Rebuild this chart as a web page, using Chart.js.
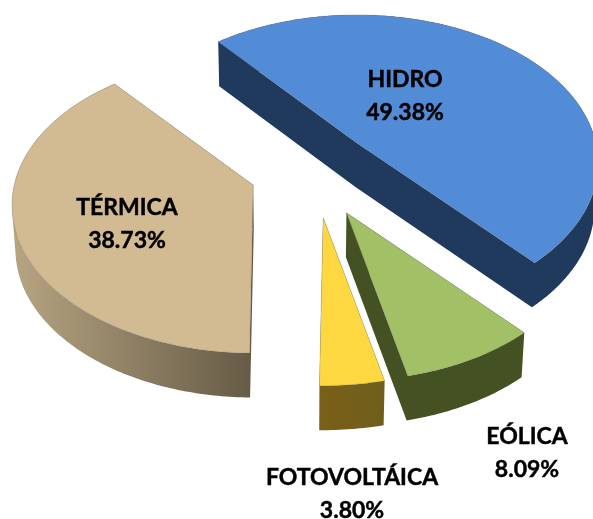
<!DOCTYPE html>
<html>
<head>
<meta charset="utf-8">
<style>html,body{margin:0;padding:0;background:#fff}canvas{display:block}</style>
<script src="https://cdn.jsdelivr.net/npm/chart.js@4"></script>
</head>
<body>
<div style="width:593px;height:519px"><canvas id="c" width="593" height="519"></canvas></div>
<script>
const categories = ['HIDRO', 'EÓLICA', 'FOTOVOLTÁICA', 'TÉRMICA'];
const shares = [49.38, 8.09, 3.80, 38.73];
const explode = [68, 68, 68, 56];
const topColors = ['#528bd6', '#a2c066', '#fdd841', '#d2bb93'];
const wallLeft = ['#1f3a5c', '#445122', '#7a5f18', '#b7a582'];
const wallRight = ['#1f3a5c', '#445122', '#6f5f1c', '#655a45'];
const labelCenters = [[405, 80], [527, 437], [352, 478], [127, 208]];
const apexNudgeX = [-10, 1, 3.5, -2.5];

// 3D view of the pie: tilted plane with slight perspective, extruded downwards
const view = { ox: 312, oy: 172.6, ex: 240, ey: 150, a: 239, b: 145.3, k: 0.135, depth: 44.5, lean: 0.012 };

Chart.ArcElement.prototype.draw = function (ctx) {
  const p = this.getProps(['startAngle', 'endAngle', 'outerRadius']);
  const i = this.$context.dataIndex;
  const mid = (p.startAngle + p.endAngle) / 2;
  const d = this.options.offset / p.outerRadius;
  const ax = view.ox + d * view.ex * Math.cos(mid) + apexNudgeX[i];
  const ay = view.oy + d * view.ey * Math.sin(mid);
  const proj = (X, Y) => {
    const w = 1 / (1 - view.k * Y);
    return [ax + view.a * X * w, ay + view.b * Y * w];
  };
  const pts = [[ax, ay]];
  const steps = Math.max(4, Math.ceil((p.endAngle - p.startAngle) / 0.015));
  for (let s = 0; s <= steps; s++) {
    const t = p.startAngle + (p.endAngle - p.startAngle) * s / steps;
    pts.push(proj(Math.cos(t), Math.sin(t)));
  }
  const low = q => [q[0] - (q[0] - 300) * view.lean, q[1] + view.depth];
  const xs = pts.map(q => q[0]);
  const g = ctx.createLinearGradient(Math.min(...xs), 0, Math.max(...xs), 0);
  g.addColorStop(0, wallLeft[i]);
  g.addColorStop(1, wallRight[i]);

  ctx.save();
  // the wall is one path: the union of the quads swept below every edge, all wound the same way
  ctx.beginPath();
  for (let n = 0; n < pts.length; n++) {
    const q = pts[n], r = pts[(n + 1) % pts.length];
    let quad = [q, r, low(r), low(q)];
    let area = 0;
    quad.forEach((u, m) => { const v = quad[(m + 1) % 4]; area += u[0] * v[1] - v[0] * u[1]; });
    if (area < 0) quad = quad.reverse();
    quad.forEach((u, m) => m ? ctx.lineTo(u[0], u[1]) : ctx.moveTo(u[0], u[1]));
    ctx.closePath();
  }
  ctx.fillStyle = g;
  ctx.fill('nonzero');

  ctx.beginPath();
  pts.forEach((q, n) => n ? ctx.lineTo(q[0], q[1]) : ctx.moveTo(q[0], q[1]));
  ctx.closePath();
  ctx.fillStyle = this.options.backgroundColor;
  ctx.fill();
  ctx.strokeStyle = this.options.borderColor;
  ctx.lineWidth = this.options.borderWidth;
  ctx.stroke();
  ctx.restore();
};

const pieLabels = {
  id: 'pieLabels',
  afterDatasetsDraw(chart) {
    const ctx = chart.ctx;
    ctx.save();
    ctx.fillStyle = '#000';
    ctx.strokeStyle = '#000';
    ctx.lineWidth = 0.45;
    ctx.font = 'bold 23px Lato';
    ctx.textAlign = 'center';
    ctx.textBaseline = 'middle';
    categories.forEach((name, i) => {
      const [x, y] = labelCenters[i];
      const pct = shares[i].toFixed(2) + '%';
      ctx.fillText(name, x, y);
      ctx.strokeText(name, x, y);
      ctx.fillText(pct, x, y + 33);
      ctx.strokeText(pct, x, y + 33);
    });
    ctx.restore();
  }
};

new Chart(document.getElementById('c'), {
  type: 'pie',
  data: {
    labels: categories,
    datasets: [{
      data: shares,
      backgroundColor: topColors,
      borderColor: 'rgba(125,125,125,0.3)',
      borderWidth: 1,
      offset: explode
    }]
  },
  options: {
    responsive: false,
    animation: false,
    rotation: -39.8,
    layout: { padding: 0 },
    plugins: { legend: { display: false }, tooltip: { enabled: false } }
  },
  plugins: [pieLabels]
});
</script>
</body>
</html>
